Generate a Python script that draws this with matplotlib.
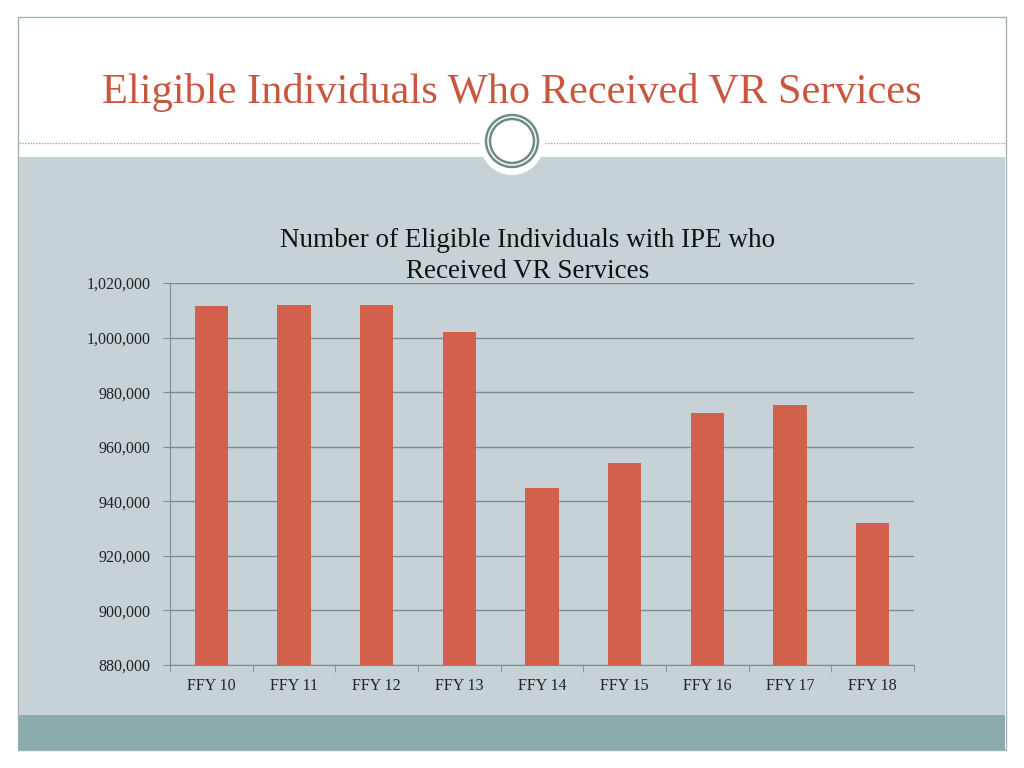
import numpy as np
import matplotlib
matplotlib.use("Agg")
import matplotlib.pyplot as plt
from matplotlib.patches import Rectangle, Ellipse
from matplotlib.ticker import FuncFormatter

categories = ["FFY 10", "FFY 11", "FFY 12", "FFY 13", "FFY 14",
              "FFY 15", "FFY 16", "FFY 17", "FFY 18"]
values = [1011600, 1011800, 1012000, 1002000, 944900,
          954000, 972300, 975300, 932000]
yticks = [880000, 900000, 920000, 940000, 960000, 980000, 1000000, 1020000]

W, H = 1024, 768
bar_col = "#D2604A"
panel_col = "#C6D2D6"
band_col = "#8CABAB"
title_col = "#C9573F"
serif = ["Liberation Serif", "DejaVu Serif"]

fig = plt.figure(figsize=(W / 100, H / 100), dpi=100)
fig.patch.set_facecolor("white")

def px(x, y, w, h):
    # pixel box (top-left origin) -> figure fraction
    return (x / W, 1 - (y + h) / H, w / W, h / H)

def rect(x, y, w, h, **kw):
    l, b, ww, hh = px(x, y, w, h)
    fig.patches.append(Rectangle((l, b), ww, hh, transform=fig.transFigure, **kw))

# slide frame and background bands
rect(18, 17, 988, 733, facecolor="white", edgecolor="#9FB3B3", lw=1.0, zorder=0)
rect(19, 157, 986, 558, facecolor=panel_col, edgecolor="none", zorder=1)
rect(19, 715, 986, 35, facecolor=band_col, edgecolor="none", zorder=1)

# dashed separator line
for x0, x1 in [(19, 480), (545, 1005)]:
    fig.add_artist(plt.Line2D([x0 / W, x1 / W], [1 - 143 / H] * 2,
                              transform=fig.transFigure, color="#9AAFAF",
                              lw=1.0, ls=(0, (1, 1)), zorder=2))

# circle ornament
cx, cy = 512 / W, 1 - 141 / H
fig.add_artist(Ellipse((cx, 1 - 143 / H), 64 / W, 64 / H, transform=fig.transFigure,
                       facecolor="white", edgecolor="none", zorder=3))
for r in [26, 22]:
    fig.add_artist(Ellipse((cx, cy), 2 * r / W, 2 * r / H, transform=fig.transFigure,
                           facecolor="none", edgecolor="#6F8A8A", lw=1.8, zorder=4))

# slide title
fig.text(512 / W, 1 - 92 / H, "Eligible Individuals Who Received VR Services",
         ha="center", va="center", fontsize=30.5, color=title_col, family=serif,
         zorder=5)

# chart
ax = fig.add_axes(px(170, 283, 744, 382))
ax.set_zorder(6)
ax.set_facecolor("none")
x = np.arange(len(categories))
ax.bar(x, values, width=0.4, color=bar_col, zorder=3)
ax.set_xlim(-0.5, len(categories) - 0.5)
ax.set_ylim(yticks[0], yticks[-1])
ax.set_yticks(yticks)
ax.yaxis.set_major_formatter(FuncFormatter(lambda v, p: f"{int(v):,}"))
ax.set_xticks(x)
ax.set_xticklabels(categories)
ax.set_xticks(np.arange(len(categories) + 1) - 0.5, minor=True)
ax.grid(axis="y", color="#7F8C8C", lw=1.0, zorder=0)
for s in ["top", "right"]:
    ax.spines[s].set_visible(False)
for s in ["left", "bottom"]:
    ax.spines[s].set_color("#7F8C8C")
ax.tick_params(axis="x", which="major", length=0, pad=9)
ax.tick_params(axis="x", which="minor", length=5, color="#7F8C8C")
ax.tick_params(axis="y", length=5, color="#7F8C8C", pad=9)
for lab in ax.get_xticklabels() + ax.get_yticklabels():
    lab.set_family(serif)
    lab.set_fontsize(11.5)
    lab.set_color("#222222")

fig.text(528 / W, 1 - 256 / H,
         "Number of Eligible Individuals with IPE who\nReceived VR Services",
         ha="center", va="center", fontsize=19.5, color="#111111", family=serif,
         linespacing=1.3, zorder=7)

fig.savefig("out.png", dpi=100, facecolor=fig.get_facecolor())
